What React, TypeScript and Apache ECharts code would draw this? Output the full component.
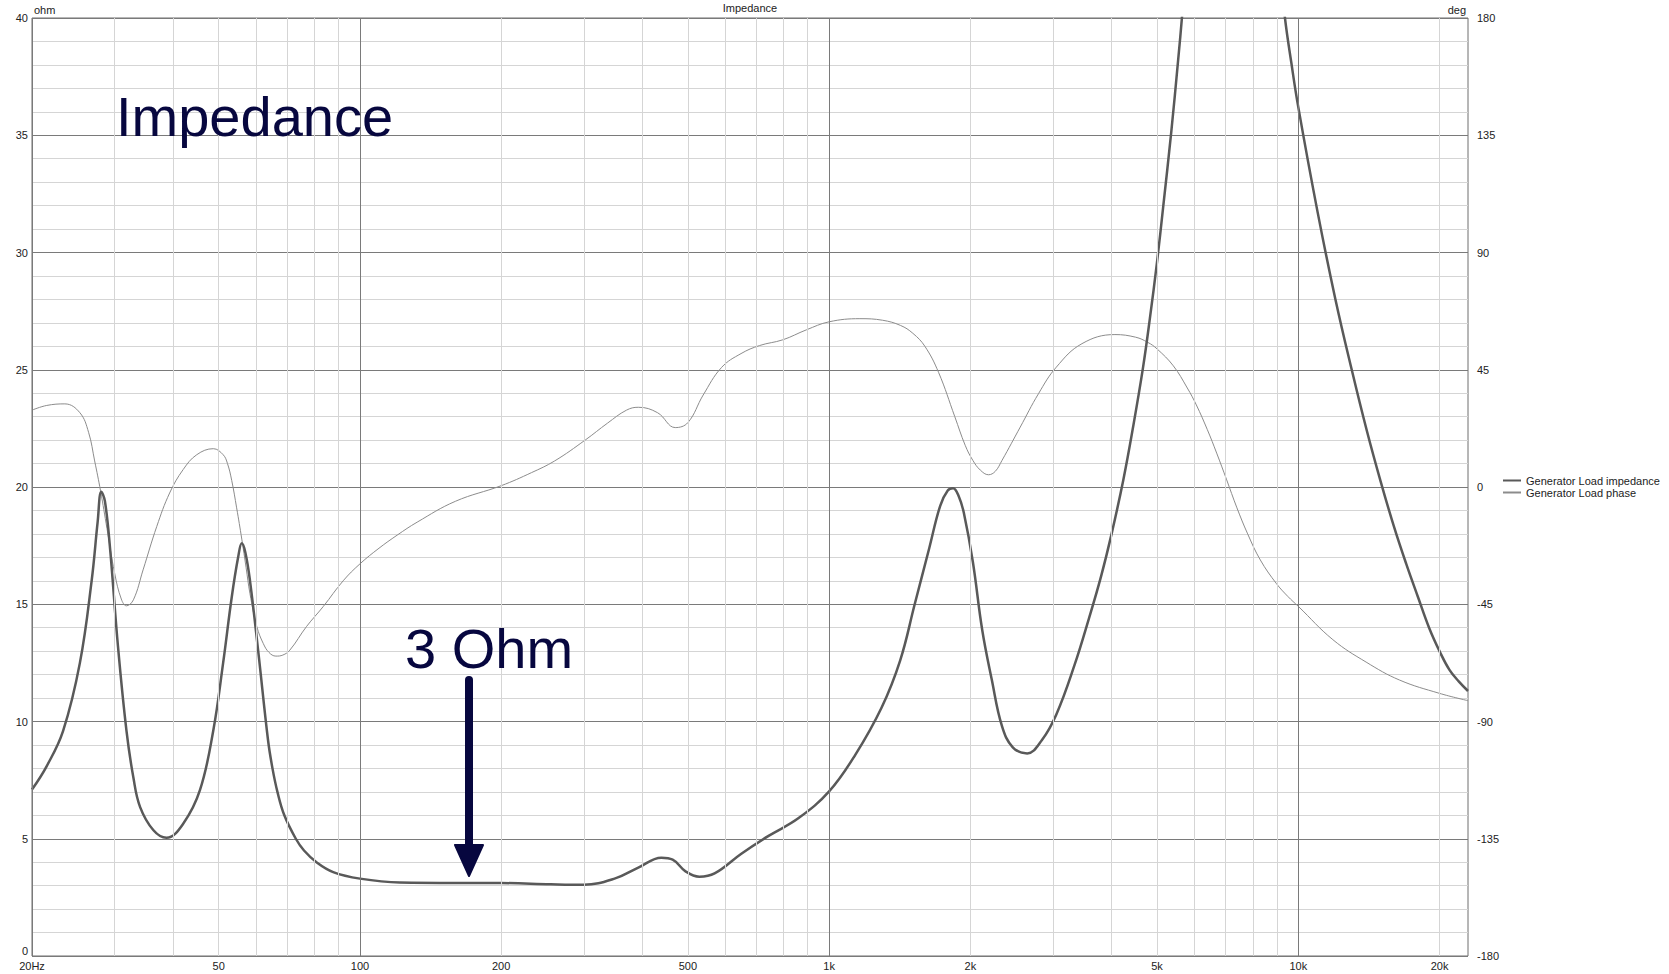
import React, { useEffect, useRef } from 'react';
import * as echarts from 'echarts';

// impedance curve: [frequency Hz, ohm]
const impedance: number[][] = [
  [20, 7.1], [21.5, 8.1], [23.3, 9.6], [25.3, 12.5], [26.8, 16.0], [27.6, 18.5],
  [28.1, 19.8], [28.6, 19.4], [29.3, 17.5], [30.5, 13.2], [31.8, 9.6], [32.9, 7.6],
  [34, 6.35], [36.3, 5.36], [38.7, 5.04], [42, 5.64], [45.6, 7.07], [48.7, 9.63],
  [51.1, 12.5], [53.3, 15.3], [55, 17.0], [56, 17.6], [57, 17.2], [58.3, 16.0],
  [60.7, 13.0], [63.7, 9.2], [65.1, 8], [66.7, 7], [69, 6], [73, 5],
  [76, 4.5], [80.8, 4], [87.7, 3.58], [100, 3.3], [121.6, 3.13], [160, 3.11],
  [200, 3.11], [255, 3.06], [300, 3.04], [350, 3.31], [392, 3.77], [439, 4.19],
  [464, 4.11], [495, 3.6], [529, 3.38], [570, 3.52], [650, 4.36], [743, 5.12],
  [861, 5.88], [1000, 7.02], [1137, 8.58], [1294, 10.6], [1417, 12.6], [1522, 15.0],
  [1635, 17.4], [1725, 19.2], [1790, 19.85], [1837, 19.95], [1890, 19.6], [1937, 18.9],
  [2025, 16.8], [2120, 13.9], [2221, 11.8], [2336, 9.8], [2463, 8.9], [2644, 8.64],
  [2840, 9.2], [3050, 10.3], [3334, 12.4], [3580, 14.4], [3800, 16.2], [4000, 18.0],
  [4237, 20.3], [4449, 22.6], [4668, 25.1], [4828, 27.2], [5000, 29.6], [5150, 31.9],
  [5365, 35.2], [5545, 38.2], [5660, 40.2], [5900, 44.6], [6300, 51], [6800, 56.5],
  [7300, 58], [7800, 55.5], [8300, 50.5], [8800, 45], [9367, 40], [9663, 38.1],
  [10000, 36.2], [11000, 31.7], [12000, 28.0], [13000, 25.0], [14000, 22.4], [15000, 20.2],
  [16000, 18.3], [17000, 16.7], [18000, 15.3], [19000, 14.0], [20000, 13.0], [21000, 12.2],
  [22000, 11.7], [23000, 11.3],
];

// phase curve: [frequency Hz, degrees]
const phase: number[][] = [
  [20, 29.5], [21.5, 31.3], [23.5, 31.9], [25.3, 28.5], [26.4, 21], [27.2, 10],
  [28, -1.5], [28.9, -16], [30, -33], [31, -43], [31.8, -45.6], [32.9, -43.3],
  [34.5, -31.8], [36.9, -15.1], [39.3, -2.3], [42, 6.7], [44.9, 12.4], [48.7, 14.7],
  [51.1, 12.4], [52.2, 9], [53.3, 2.5], [54.6, -8], [56, -20], [57.2, -31],
  [58.3, -41], [60.3, -53.6], [62.2, -60], [64, -63.5], [66.2, -64.9], [68.5, -64.5],
  [70.9, -62.6], [76.9, -53.6], [83.5, -45.9], [92.1, -36], [100, -29.5], [109.8, -23.5],
  [120, -18.5], [132.4, -13.5], [159.7, -5.5], [200, 0.5], [232, 5.5], [260, 10],
  [302, 18], [337, 24.5], [370, 29.5], [392, 30.6], [431, 28.5], [470, 22.8],
  [500, 24.7], [539, 35.3], [590, 45.9], [649, 51.2], [711, 54.3], [797, 56.5],
  [894, 60.3], [1000, 63.4], [1163, 64.6], [1300, 64.0], [1420, 62.0], [1508, 59],
  [1600, 54], [1711, 44], [1853, 27], [1950, 16], [2025, 10.2], [2100, 6.5],
  [2186, 4.7], [2260, 6], [2336, 10.2], [2555, 23], [2794, 35.8], [3050, 46],
  [3458, 55], [4066, 58.5], [4500, 57.5], [4779, 55.5], [5000, 53], [5416, 46.5],
  [5800, 38], [6063, 31.5], [6400, 22], [6700, 13], [7028, 3], [7400, -8],
  [7800, -18], [8300, -28], [8976, -37], [9500, -42], [10000, -45.8], [11850, -58.6],
  [13950, -67.2], [16440, -74.1], [20000, -79.2], [23000, -82],
];

const tickFreqs = [20, 50, 100, 200, 500, 1000, 2000, 5000, 10000, 20000];
const tickLabels = ['20Hz', '50', '100', '200', '500', '1k', '2k', '5k', '10k', '20k'];
const majorFreqs = [100, 1000, 10000];
const minorFreqs = [
  30, 40, 50, 60, 70, 80, 90,
  200, 300, 400, 500, 600, 700, 800, 900,
  2000, 3000, 4000, 5000, 6000, 7000, 8000, 9000,
  20000,
];

const FONT = '"Liberation Sans", Arial, sans-serif';
const NAVY = '#07073f';

const App = () => {
  const chartRef = useRef<HTMLDivElement>(null);

  useEffect(() => {
    const chart = echarts.init(chartRef.current, null, { renderer: 'svg' });

    const gridFreqs = [20, ...minorFreqs, ...majorFreqs].sort((a, b) => a - b);
    const gridLines = gridFreqs.map((f) => {
      const idx = tickFreqs.indexOf(f);
      return {
        xAxis: f,
        lineStyle: {
          color: majorFreqs.includes(f) || f === 20 ? '#7a7a7a' : '#d5d5d5',
          width: 1,
          type: 'solid',
        },
        label: {
          show: idx >= 0,
          formatter: idx >= 0 ? tickLabels[idx] : '',
        },
      };
    });

    const option: any = {
      animation: false,
      backgroundColor: '#ffffff',
      textStyle: { fontFamily: FONT },
      title: {
        text: 'Impedance',
        left: 750,
        top: 2,
        padding: 0,
        textAlign: 'center',
        textStyle: { fontSize: 11, fontWeight: 'normal', color: '#222', fontFamily: FONT },
      },
      legend: {
        orient: 'vertical',
        left: 1502,
        top: 475,
        padding: 0,
        itemWidth: 18,
        itemHeight: 12,
        itemGap: 1,
        itemStyle: { opacity: 0 },
        data: ['Generator Load impedance', 'Generator Load phase'],
        textStyle: { fontSize: 11, color: '#222', fontFamily: FONT },
      },
      grid: {
        left: 32,
        right: 201,
        top: 18,
        bottom: 18,
        show: true,
        borderColor: '#6e6e6e',
        borderWidth: 1,
      },
      xAxis: {
        type: 'log',
        logBase: 10,
        min: 20,
        max: 23000,
        axisLine: { show: false },
        axisTick: { show: false },
        axisLabel: { show: false },
        splitLine: { show: false },
      },
      yAxis: [
        {
          type: 'value',
          min: 0,
          max: 40,
          interval: 5,
          name: 'ohm',
          nameLocation: 'end',
          nameGap: 3,
          nameTextStyle: { align: 'left', fontSize: 11, color: '#222', padding: [0, 0, 0, 2] },
          axisLine: { show: false },
          axisTick: { show: false },
          axisLabel: {
            fontSize: 11,
            color: '#222',
            margin: 4,
            padding: [0, 0, 3, 0],
            formatter: (v: number) => (v === 0 ? '' : String(v)),
          },
          splitLine: { show: true, lineStyle: { color: '#7a7a7a', width: 1 } },
          minorTick: { show: false, splitNumber: 5 },
          minorSplitLine: { show: true, lineStyle: { color: '#d5d5d5', width: 1 } },
        },
        {
          type: 'value',
          min: -180,
          max: 180,
          interval: 45,
          position: 'right',
          name: 'deg',
          nameLocation: 'end',
          nameGap: 3,
          nameTextStyle: { align: 'right', fontSize: 11, color: '#222', padding: [0, 2, 0, 0] },
          axisLine: { show: false },
          axisTick: { show: false },
          axisLabel: { fontSize: 11, color: '#222', margin: 9 },
          splitLine: { show: false },
        },
      ],
      series: [
        {
          name: 'frequency grid',
          type: 'line',
          data: [[20, 0]],
          showSymbol: false,
          symbol: 'none',
          lineStyle: { width: 0 },
          silent: true,
          z: 1,
          markLine: {
            silent: true,
            symbol: ['none', 'none'],
            animation: false,
            label: {
              position: 'start',
              distance: 4,
              fontSize: 11,
              color: '#222',
              fontFamily: FONT,
            },
            data: gridLines,
          },
        },
        {
          name: 'Generator Load phase',
          type: 'line',
          yAxisIndex: 1,
          data: phase,
          symbol: 'none',
          smooth: 0.4,
          lineStyle: { color: '#8c8c8c', width: 1 },
          itemStyle: { color: '#8c8c8c' },
          z: 3,
        },
        {
          name: 'Generator Load impedance',
          type: 'line',
          yAxisIndex: 0,
          data: impedance,
          symbol: 'none',
          smooth: 0.4,
          lineStyle: { color: '#595959', width: 2.5 },
          itemStyle: { color: '#595959' },
          z: 4,
        },
      ],
      graphic: [
        {
          type: 'text',
          x: 28,
          y: 951,
          style: {
            text: '0',
            fontSize: 11,
            fontFamily: FONT,
            fill: '#222',
            align: 'right',
            verticalAlign: 'middle',
          },
        },
        {
          type: 'text',
          x: 116,
          y: 116,
          z: 10,
          style: {
            text: 'Impedance',
            fontSize: 56,
            fontFamily: FONT,
            fill: NAVY,
            verticalAlign: 'middle',
          },
        },
        {
          type: 'text',
          x: 405,
          y: 648,
          z: 10,
          style: {
            text: '3 Ohm',
            fontSize: 56,
            fontFamily: FONT,
            fill: NAVY,
            verticalAlign: 'middle',
          },
        },
        {
          type: 'line',
          z: 10,
          shape: { x1: 469, y1: 680, x2: 469, y2: 850 },
          style: { stroke: NAVY, lineWidth: 8, lineCap: 'round' },
        },
        {
          type: 'polygon',
          z: 10,
          shape: { points: [[455, 845], [483, 845], [469, 876]] },
          style: { fill: NAVY, stroke: NAVY, lineWidth: 2, lineJoin: 'round' },
        },
      ],
    };

    chart.setOption(option);

    return () => {
      chart.dispose();
    };
  }, []);

  return (
    <div
      ref={chartRef}
      style={{
        position: 'fixed',
        left: 0,
        top: 0,
        width: '1669px',
        height: '974px',
        background: '#fff',
      }}
    />
  );
};

export default App;
